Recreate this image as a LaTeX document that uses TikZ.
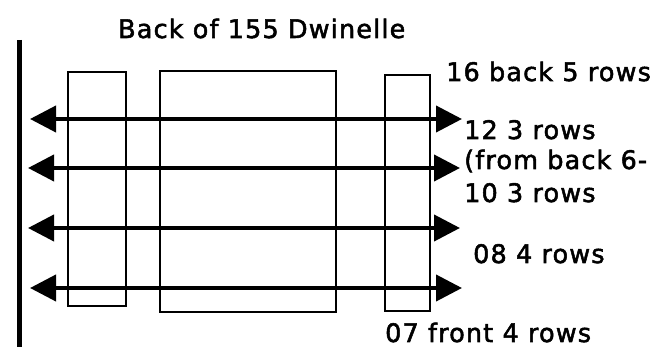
\documentclass[tikz,border=0pt]{standalone}
\usepackage{fontspec}
\setmainfont{DejaVu Sans}[LetterSpace=4.5,FakeBold=2]
\usetikzlibrary{arrows.meta}
\begin{document}
\begin{tikzpicture}[x=1pt,y=-1pt,
  lbl/.style={anchor=base west, inner sep=0pt, text depth=0pt, font=\fontsize{25.5}{28}\selectfont},
  box/.style={draw, line width=2pt},
  wall/.style={line width=4.5pt},
  row/.style={line width=4pt, {Triangle[length=26pt,width=26pt]}-{Triangle[length=26pt,width=26pt]}}]
\useasboundingbox (0,0) rectangle (667,347);
% wall
\coordinate (w1) at (19.5,40);
\coordinate (w2) at (19.5,347);
\draw[wall] (w1) -- (w2);
% tables
\draw[box] (68,72) rectangle (126,306);
\draw[box] (160,71) rectangle (336,312);
\draw[box] (385,75) rectangle (430,311);
% rows
\coordinate (a1) at (30,119);  \coordinate (b1) at (462,119);
\coordinate (a2) at (28,168);  \coordinate (b2) at (460,168);
\coordinate (a3) at (28,228);  \coordinate (b3) at (460,228);
\coordinate (a4) at (30,288);  \coordinate (b4) at (462,288);
\draw[row] (a1) -- (b1);
\draw[row] (a2) -- (b2);
\draw[row] (a3) -- (b3);
\draw[row] (a4) -- (b4);
% labels
\node[lbl] (title) at (118,38) {Back of 155 Dwinelle};
\node[lbl] (t16) at (446,81) {16 back 5 rows};
\node[lbl] (t12) at (464,139) {12 3 rows};
\node[lbl] (tfrom) at (464,169) {(from back 6-};
\node[lbl] (t10) at (464,202) {10 3 rows};
\node[lbl] (t08) at (473,263) {08 4 rows};
\node[lbl] (t07) at (385,342) {07 front 4 rows};
\end{tikzpicture}
\end{document}
